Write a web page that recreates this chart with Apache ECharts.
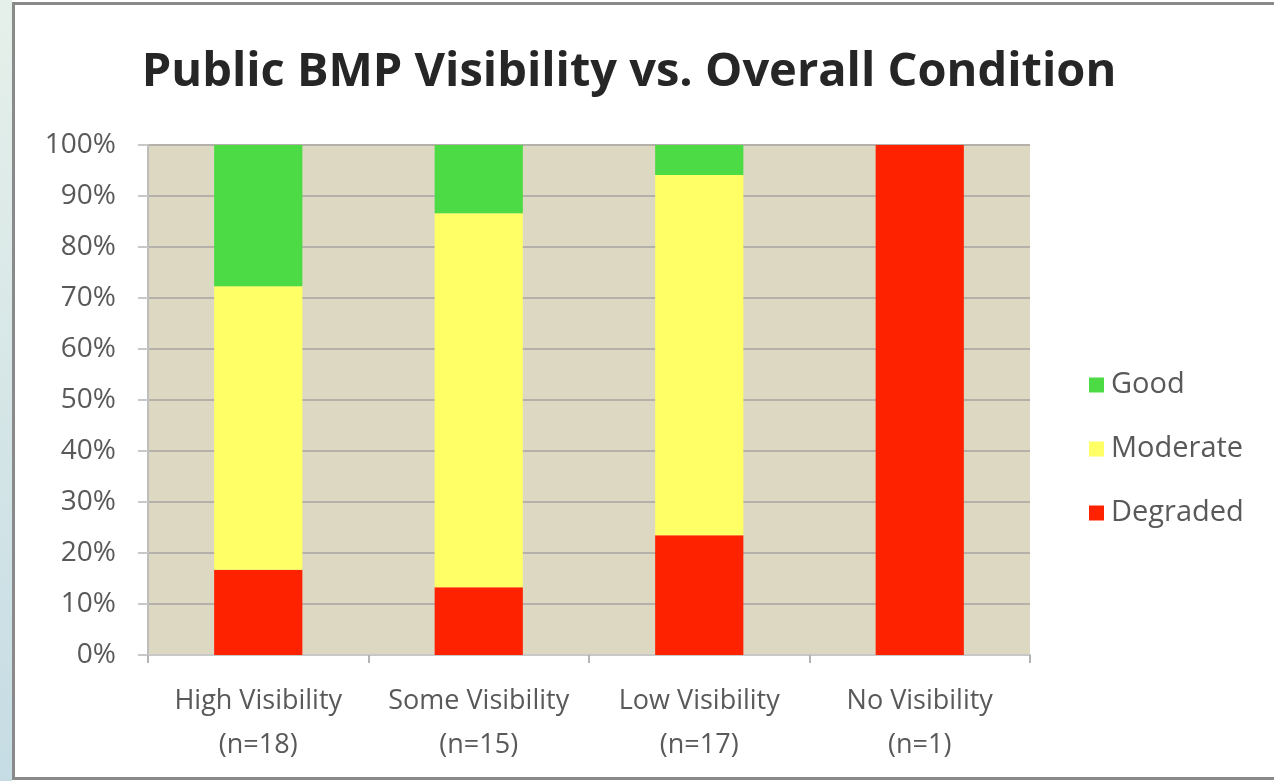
<!DOCTYPE html>
<html>
<head>
<meta charset="utf-8">
<title>Public BMP Visibility vs. Overall Condition</title>
<script src="https://cdn.jsdelivr.net/npm/echarts@6/dist/echarts.min.js"></script>
<style>
	html, body { margin: 0; padding: 0; background: #fff; }
	#chart { width: 1274px; height: 781px; }
</style>
</head>
<body>
<div id="chart"></div>
<script>
// categories and percentages
var categories = ['High Visibility\n(n=18)', 'Some Visibility\n(n=15)', 'Low Visibility\n(n=17)', 'No Visibility\n(n=1)'];
var degraded = [16.7, 13.3, 23.5, 100];
var moderate = [55.6, 73.3, 70.6, 0];
var good = [27.7, 13.4, 5.9, 0];

var yTicks = [0, 10, 20, 30, 40, 50, 60, 70, 80, 90, 100];

var fontFam = '"Open Sans", "Noto Sans", sans-serif';

var chart = echarts.init(document.getElementById('chart'));

chart.setOption({
	backgroundColor: '#ffffff',
	animation: false,
	title: {
		text: 'Public BMP Visibility vs. Overall Condition',
		left: 624,
		textAlign: 'center',
		top: 44,
		textStyle: {
			fontFamily: fontFam,
			fontSize: 47,
			fontWeight: 'bold',
			color: '#262626'
		}
	},
	legend: {
		orient: 'vertical',
		left: 1084,
		top: 365,
		itemGap: 34,
		itemWidth: 15,
		itemHeight: 15,
		icon: 'rect',
		data: ['Good', 'Moderate', 'Degraded'],
		textStyle: {
			fontFamily: fontFam,
			fontSize: 29,
			lineHeight: 30,
			color: '#595959',
			padding: [0, 0, 0, 2]
		}
	},
	grid: {
		left: 148,
		right: 244,
		top: 145,
		bottom: 126,
		show: true,
		backgroundColor: '#ddd8c2',
		borderWidth: 0
	},
	xAxis: {
		type: 'category',
		data: categories,
		axisLine: { show: true, lineStyle: { color: '#c8c8c8', width: 2 } },
		axisTick: { show: true, interval: 0, length: 8, lineStyle: { color: '#b4b4b4', width: 2 } },
		axisLabel: {
			interval: 0,
			hideOverlap: false,
			fontFamily: fontFam,
			fontSize: 27,
			color: '#595959',
			lineHeight: 44,
			margin: 24
		}
	},
	yAxis: {
		type: 'value',
		min: 0,
		max: 100,
		interval: 10,
		axisLine: { show: true, lineStyle: { color: '#bebebe', width: 2 } },
		axisTick: { show: true, length: 10, lineStyle: { color: '#c8c8c8', width: 2 } },
		axisLabel: {
			fontFamily: fontFam,
			fontSize: 28,
			color: '#595959',
			margin: 32,
			formatter: function(v) {
				return yTicks.indexOf(v) >= 0 ? v + '%' : '';
			}
		},
		splitLine: { show: true, lineStyle: { color: '#b3b1aa', width: 2 } }
	},
	series: [{
		name: 'Degraded',
		type: 'bar',
		stack: 'all',
		barWidth: '40%',
		itemStyle: { color: '#ff2200' },
		data: degraded
	}, {
		name: 'Moderate',
		type: 'bar',
		stack: 'all',
		itemStyle: { color: '#ffff66' },
		data: moderate
	}, {
		name: 'Good',
		type: 'bar',
		stack: 'all',
		itemStyle: { color: '#4cdb44' },
		data: good
	}],
	graphic: [{
		// slide background strip on the left
		type: 'rect',
		shape: { x: 0, y: 0, width: 12, height: 781 },
		style: {
			fill: new echarts.graphic.LinearGradient(0, 0, 0, 1, [
				{ offset: 0, color: '#e6f0ea' },
				{ offset: 1, color: '#c6dce4' }
			])
		},
		silent: true
	}, {
		// chart frame
		type: 'rect',
		shape: { x: 13.5, y: 3.5, width: 1300, height: 775 },
		style: { fill: null, stroke: '#8a8a8a', lineWidth: 3 },
		silent: true
	}]
});

window.addEventListener('resize', function() {
	chart.resize();
});
</script>
</body>
</html>
